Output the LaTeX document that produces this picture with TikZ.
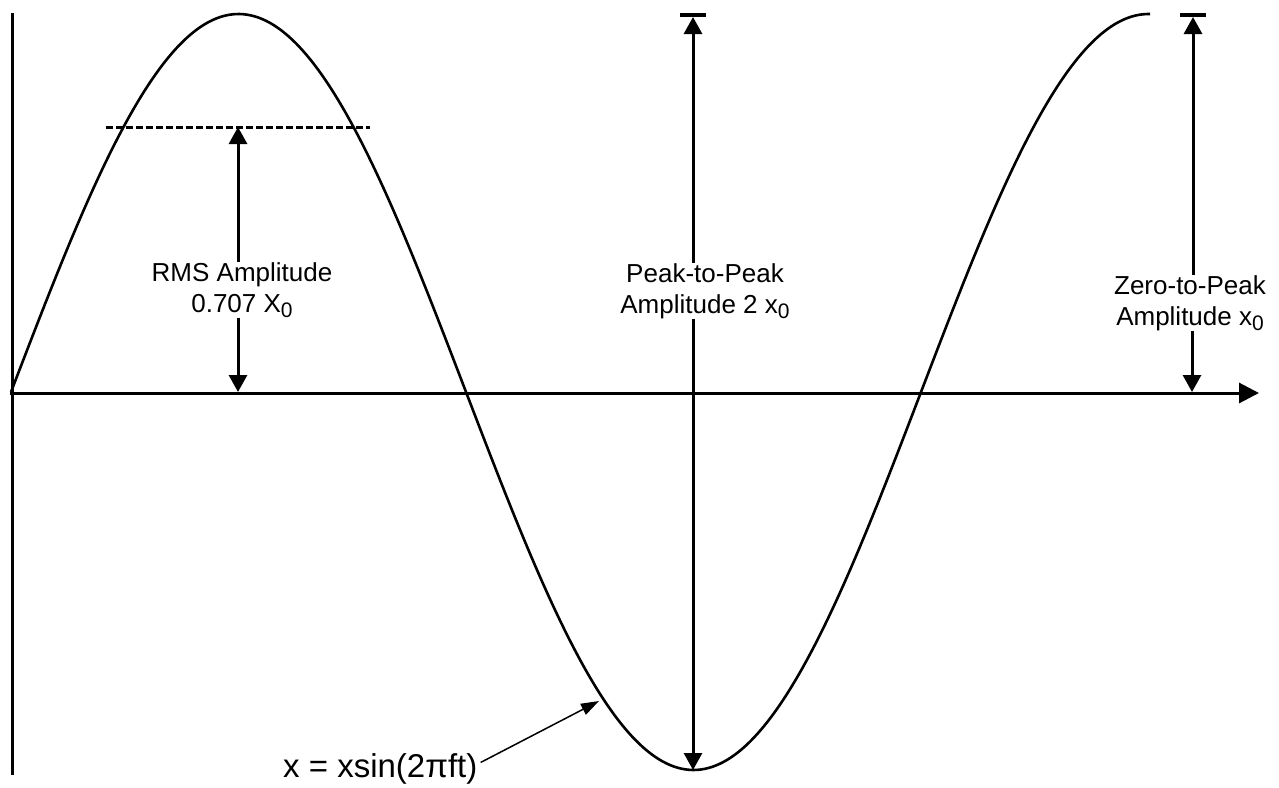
\documentclass[tikz,border=0pt]{standalone}
\usepackage{fontspec}
\setmainfont{Liberation Sans}
\usetikzlibrary{arrows.meta}
\newcommand\lowsub[1]{\raisebox{-5pt}{\fontsize{21}{21}\selectfont #1}}
\tikzset{
  curve/.style={line width=2.6pt, line join=round},
  axisline/.style={line width=3pt},
  dimarrow/.style={line width=3pt},
  tipa/.style={-{Triangle[width=18pt,length=17pt]}},
  tipb/.style={{Triangle[width=18pt,length=17pt]}-},
  barline/.style={line width=4pt},
  lbl/.style={font=\fontsize{26}{31}\selectfont, align=center, inner sep=0pt},
}
\begin{document}
\begin{tikzpicture}[x=1pt,y=-1pt]
\useasboundingbox (0,0) rectangle (1279,787);
% axes
\coordinate (vtop) at (12,13);
\coordinate (vbot) at (12,775);
\coordinate (origin) at (10,393);
\coordinate (hend) at (1259,393);
\draw[axisline] (vtop) -- (vbot);
\draw[axisline,-{Triangle[width=20pt,length=20pt]}] (origin) -- (hend);
% sine curve
\draw[curve] plot[domain=11:1150,samples=300,smooth] (\x,{392-378*sin(0.395604*(\x-11))});
% RMS
\coordinate (dashl) at (106,127);
\coordinate (dashr) at (370,127);
\draw[line width=3pt, dash pattern=on 7pt off 3pt] (dashl) -- (dashr);
\coordinate (rmstop) at (238,127);
\coordinate (rmsbot) at (238,392);
\node[lbl] (rms) at (242,290) {RMS Amplitude\\0.707 X\lowsub{0}};
\draw[dimarrow,tipb] (rmstop) -- (rmstop |- rms.north);
\draw[dimarrow,tipa] (rmsbot |- rms.south) -- (rmsbot);
% Peak-to-peak
\coordinate (pptop) at (693,17);
\coordinate (ppbar) at (693,15);
\coordinate (ppbot) at (693,770);
\draw[barline] (ppbar) ++(-13,0) -- ++(26,0);
\node[lbl] (pp) at (705,291) {Peak-to-Peak\\Amplitude 2 x\lowsub{0}};
\draw[dimarrow,tipb] (pptop) -- (pptop |- pp.north);
\draw[dimarrow,tipa] (ppbot |- pp.south) -- (ppbot);
% Zero-to-peak
\coordinate (zptop) at (1193,17);
\coordinate (zpbar) at (1193,15);
\coordinate (zpbot) at (1192,392);
\draw[barline] (zpbar) ++(-13,0) -- ++(26,0);
\node[lbl] (zp) at (1190,303) {Zero-to-Peak\\Amplitude x\lowsub{0}};
\draw[dimarrow,tipb] (zptop) -- (zptop |- zp.north);
\draw[dimarrow,tipa] (zpbot |- zp.south) -- (zpbot);
% formula
\node[inner sep=0pt, anchor=base west, font=\fontsize{33}{33}\selectfont] (formula) at (283,777) {x = xsin(2πft)};
\coordinate (oncurve) at (599,701);
\draw[line width=1.5pt,-{Triangle[width=12pt,length=18pt]}] ([xshift=3pt,yshift=6pt]formula.east) -- (oncurve);
\end{tikzpicture}
\end{document}
